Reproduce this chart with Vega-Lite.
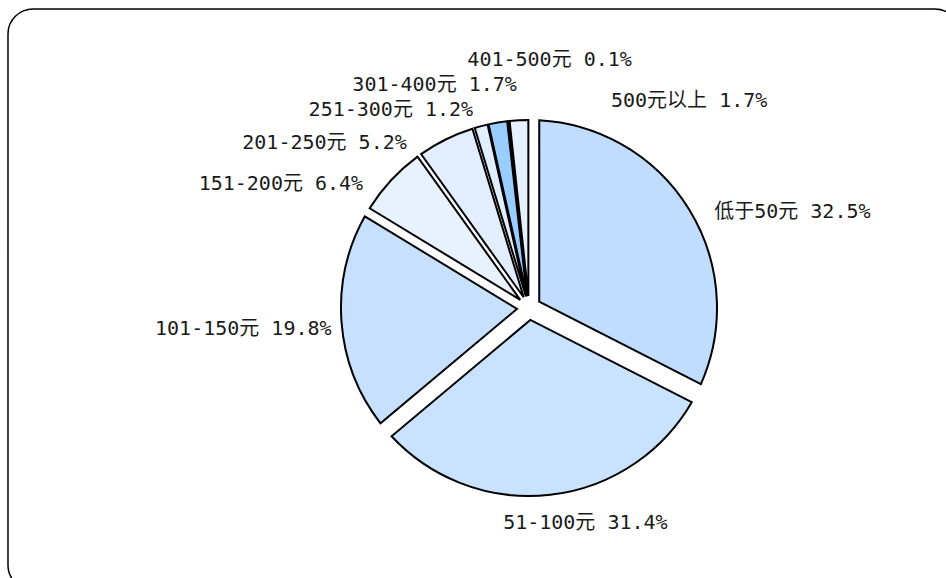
{
  "$schema": "https://vega.github.io/schema/vega-lite/v6.json",
  "width": 952,
  "height": 581,
  "autosize": {"type": "none"},
  "padding": {"left": 8, "top": 9, "right": -14, "bottom": -12},
  "background": "white",
  "config": {
    "view": {"stroke": "#000000", "strokeWidth": 1.5, "cornerRadius": 25},
    "text": {"font": "DejaVu Sans Mono, Noto Sans CJK SC", "fontSize": 20, "fill": "#1a1a1a"}
  },
  "data": {
    "values": [
      {"cat": "低于50元", "share": 32.5, "label": "低于50元 32.5%"},
      {"cat": "51-100元", "share": 31.4, "label": "51-100元 31.4%"},
      {"cat": "101-150元", "share": 19.8, "label": "101-150元 19.8%"},
      {"cat": "151-200元", "share": 6.4, "label": "151-200元 6.4%"},
      {"cat": "201-250元", "share": 5.2, "label": "201-250元 5.2%"},
      {"cat": "251-300元", "share": 1.2, "label": "251-300元 1.2%"},
      {"cat": "301-400元", "share": 1.7, "label": "301-400元 1.7%"},
      {"cat": "401-500元", "share": 0.1, "label": "401-500元 0.1%"},
      {"cat": "500元以上", "share": 1.7, "label": "500元以上 1.7%"}
    ]
  },
  "transform": [{"window": [{"op": "row_number", "as": "rn"}]}],
  "encoding": {
    "theta": {"field": "share", "type": "quantitative", "stack": true},
    "order": {"field": "rn", "type": "quantitative"},
    "detail": {"field": "cat", "type": "nominal"},
    "x": {"value": 521},
    "y": {"value": 299}
  },
  "layer": [
    {
      "mark": {
        "type": "arc",
        "outerRadius": 188,
        "innerRadius": 12,
        "stroke": "#000000",
        "strokeWidth": 2,
        "padAngle": {"expr": "2*asin(12*sin(PI*datum.share/100)/188.38)"}
      },
      "encoding": {
        "fill": {
          "field": "cat",
          "type": "nominal",
          "sort": null,
          "legend": null,
          "scale": {
            "domain": ["低于50元", "51-100元", "101-150元", "151-200元", "201-250元", "251-300元", "301-400元", "401-500元", "500元以上"],
            "range": ["#c0dcff", "#c8e2ff", "#c6e0fd", "#e8f2ff", "#e2eeff", "#e0eeff", "#99ccff", "#99ccff", "#e6f1ff"]
          }
        }
      }
    },
    {
      "mark": {"type": "text", "radius": 216, "align": "left", "baseline": "middle", "dx": 1, "dy": 17},
      "encoding": {"text": {"condition": {"test": "datum.cat === '低于50元'", "field": "label"}, "value": ""}}
    },
    {
      "mark": {"type": "text", "radius": 216, "align": "center", "baseline": "middle", "dx": 32, "dy": 0},
      "encoding": {"text": {"condition": {"test": "datum.cat === '51-100元'", "field": "label"}, "value": ""}}
    },
    {
      "mark": {"type": "text", "radius": 198, "align": "right", "baseline": "middle", "dx": 0, "dy": 6},
      "encoding": {"text": {"condition": {"test": "datum.cat === '101-150元'", "field": "label"}, "value": ""}}
    },
    {
      "mark": {"type": "text", "radius": 188, "align": "right", "baseline": "middle", "dx": -28, "dy": 4},
      "encoding": {"text": {"condition": {"test": "datum.cat === '151-200元'", "field": "label"}, "value": ""}}
    },
    {
      "mark": {"type": "text", "radius": 188, "align": "right", "baseline": "middle", "dx": -39, "dy": 4},
      "encoding": {"text": {"condition": {"test": "datum.cat === '201-250元'", "field": "label"}, "value": ""}}
    },
    {
      "mark": {"type": "text", "radius": 188, "align": "right", "baseline": "middle", "dx": -8, "dy": -16},
      "encoding": {"text": {"condition": {"test": "datum.cat === '251-300元'", "field": "label"}, "value": ""}}
    },
    {
      "mark": {"type": "text", "radius": 188, "align": "right", "baseline": "middle", "dx": 19, "dy": -38},
      "encoding": {"text": {"condition": {"test": "datum.cat === '301-400元'", "field": "label"}, "value": ""}}
    },
    {
      "mark": {"type": "text", "radius": 188, "align": "left", "baseline": "middle", "dx": -41, "dy": -61},
      "encoding": {"text": {"condition": {"test": "datum.cat === '401-500元'", "field": "label"}, "value": ""}}
    },
    {
      "mark": {"type": "text", "radius": 188, "align": "left", "baseline": "middle", "dx": 92, "dy": -19},
      "encoding": {"text": {"condition": {"test": "datum.cat === '500元以上'", "field": "label"}, "value": ""}}
    }
  ]
}
